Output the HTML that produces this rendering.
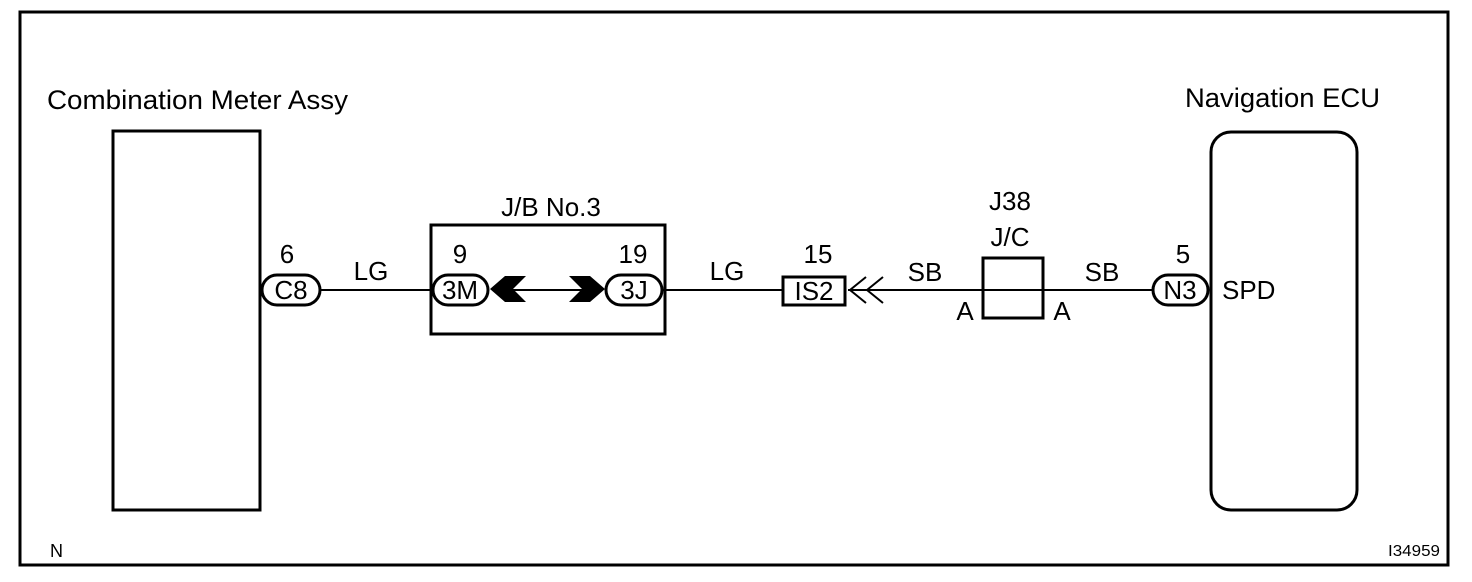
<!DOCTYPE html>
<html><head><meta charset="utf-8"><style>
html,body{margin:0;padding:0;background:#fff;}
svg{display:block;}
text{font-family:"Liberation Sans",Arial,sans-serif;fill:#000;}
</style></head><body>
<svg width="1472" height="582" viewBox="0 0 1472 582">
<rect x="20" y="12" width="1428" height="553" fill="none" stroke="#000" stroke-width="3"/>
<g font-size="27">
<text x="47" y="109" textLength="301" lengthAdjust="spacingAndGlyphs">Combination Meter Assy</text>
<text x="1185" y="107" textLength="195" lengthAdjust="spacingAndGlyphs">Navigation ECU</text>
</g>
<rect x="113" y="131" width="147" height="379" fill="none" stroke="#000" stroke-width="3"/>
<rect x="1211" y="132" width="146" height="378" rx="20" fill="none" stroke="#000" stroke-width="3"/>
<line x1="320" y1="290" x2="433" y2="290" stroke="#000" stroke-width="2"/>
<line x1="513" y1="290" x2="582" y2="290" stroke="#000" stroke-width="2"/>
<line x1="663" y1="290" x2="783" y2="290" stroke="#000" stroke-width="2"/>
<line x1="848" y1="290" x2="1153" y2="290" stroke="#000" stroke-width="2"/>
<rect x="431" y="225" width="234" height="109" fill="none" stroke="#000" stroke-width="3"/>
<g fill="#fff" stroke="#000" stroke-width="3">
<rect x="262" y="275" width="58" height="30" rx="15"/>
<rect x="433" y="275" width="55" height="30" rx="15"/>
<rect x="606" y="275" width="56" height="30" rx="15"/>
<rect x="1153" y="275" width="55" height="30" rx="15"/>
<rect x="783" y="277" width="62" height="28"/>
<rect x="983" y="258" width="60" height="60" fill="none"/>
</g>
<polygon points="490,289 505,276 526,276 513,289 526,302 505,302" fill="#000"/>
<polygon points="605,289 590,276 569,276 582,289 569,302 590,302" fill="#000"/>
<polyline points="866,277 850,290 866,303" fill="none" stroke="#000" stroke-width="2"/>
<polyline points="883,277 867,290 883,303" fill="none" stroke="#000" stroke-width="2"/>
<g font-size="26" text-anchor="middle">
<text x="291" y="299">C8</text>
<text x="460" y="299">3M</text>
<text x="634" y="299">3J</text>
<text x="814" y="300">IS2</text>
<text x="1180" y="299">N3</text>
<text x="287" y="263">6</text>
<text x="371" y="280">LG</text>
<text x="460" y="263">9</text>
<text x="633" y="263">19</text>
<text x="727" y="280">LG</text>
<text x="818" y="263">15</text>
<text x="925" y="281">SB</text>
<text x="1102" y="281">SB</text>
<text x="1183" y="263">5</text>
<text x="1010" y="210">J38</text>
<text x="1010" y="246">J/C</text>
<text x="965" y="320">A</text>
<text x="1062" y="320">A</text>
<text x="551" y="216">J/B No.3</text>
</g>
<text x="1222" y="299" font-size="26">SPD</text>
<text x="50" y="557" font-size="18">N</text>
<text x="1388" y="556" font-size="16" textLength="52" lengthAdjust="spacingAndGlyphs">I34959</text>
</svg>
</body></html>
